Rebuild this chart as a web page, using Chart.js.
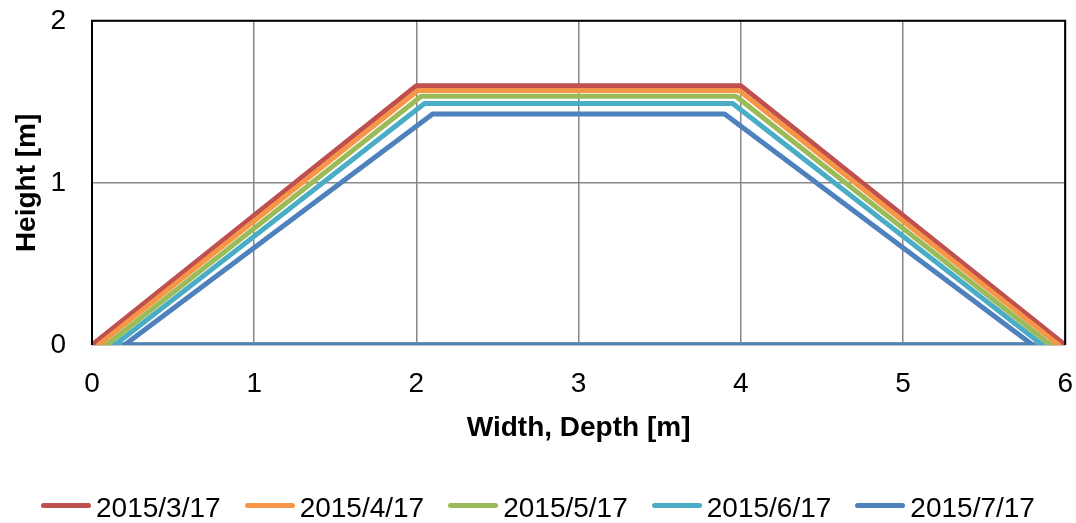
<!DOCTYPE html>
<html>
<head>
<meta charset="utf-8">
<script src="https://cdn.jsdelivr.net/npm/chart.js@4/dist/chart.umd.min.js"></script>
<style>
  html, body { margin: 0; padding: 0; background: #fff; }
  #wrap { width: 1076px; height: 523px; position: relative; overflow: hidden; }
  #box { position: absolute; left: 0; top: -22px; width: 1095px; height: 545px; }
  #legend {
    position: absolute; left: 0; top: 490px; width: 1076px; height: 36px;
    display: flex; justify-content: center; align-items: center; gap: 24px;
    font-family: 'Liberation Sans', Arial, sans-serif; font-size: 28px; color: #000;
  }
  .item { display: flex; align-items: center; }
  .swatch { width: 50px; height: 5px; border-radius: 3px; margin-right: 5px; position: relative; top: -3px; }
</style>
</head>
<body>
<div id="wrap">
  <div id="box"><canvas id="canvas"></canvas></div>
  <div id="legend"></div>
</div>
<script>
/* Survey dates (one series each) */
const dates = ["2015/3/17", "2015/4/17", "2015/5/17", "2015/6/17", "2015/7/17"];
const colors = ["#C0504D", "#F79646", "#9BBB59", "#4BACC6", "#4F81BD"];

/* Trapezoid profile of each date: foot, crest edges and crest height */
const footLeft = [0, 0.04, 0.09, 0.14, 0.2];
const crestLeft = [2, 2.01, 2.03, 2.05, 2.1];
const crestRight = [4, 3.99, 3.97, 3.95, 3.9];
const footRight = [6, 5.96, 5.91, 5.86, 5.8];
const crestHeight = [1.6, 1.57, 1.535, 1.49, 1.425];

/* Axis ticks */
const xTicks = [0, 1, 2, 3, 4, 5, 6];
const yTicks = [0, 1, 2];

const font = "'Liberation Sans', Arial, sans-serif";

/* Build datasets: closed outline back along the ground */
let datasets = [];
for (let i = 0; i < dates.length; i++) {
  datasets.push({
    label: dates[i],
    data: [
      { x: footLeft[i], y: 0 },
      { x: crestLeft[i], y: crestHeight[i] },
      { x: crestRight[i], y: crestHeight[i] },
      { x: footRight[i], y: 0 },
      { x: footLeft[i], y: 0 },
    ],
    borderColor: colors[i],
    backgroundColor: colors[i],
    borderWidth: 5,
    borderCapStyle: "round",
    borderJoinStyle: "round",
    showLine: true,
    pointRadius: 0,
    tension: 0,
    order: dates.length - i,
  });
}

/* Legend (html) */
const legend = document.getElementById("legend");
dates.forEach((d, i) => {
  let item = document.createElement("div");
  item.className = "item";
  let sw = document.createElement("span");
  sw.className = "swatch";
  sw.style.background = colors[i];
  let txt = document.createElement("span");
  txt.textContent = d;
  item.appendChild(sw);
  item.appendChild(txt);
  legend.appendChild(item);
});

/* Black frame around plot area */
const frame = {
  id: "frame",
  afterDatasetsDraw(chart) {
    const a = chart.chartArea;
    const ctx = chart.ctx;
    ctx.save();
    ctx.strokeStyle = "#000";
    ctx.lineWidth = 2;
    ctx.beginPath();
    ctx.moveTo(a.left, a.bottom);
    ctx.lineTo(a.left, a.top);
    ctx.lineTo(a.right, a.top);
    ctx.lineTo(a.right, a.bottom);
    ctx.stroke();
    ctx.restore();
  },
};

Chart.defaults.font.family = font;
Chart.defaults.color = "#000";

var ctx = document.getElementById("canvas").getContext("2d");
window.myChart = new Chart(ctx, {
  type: "scatter",
  data: { datasets: datasets },
  options: {
    responsive: true,
    maintainAspectRatio: false,
    animation: false,
    layout: { padding: { top: 0, right: 0, left: 0, bottom: 66 } },
    plugins: {
      tooltip: { enabled: false },
      legend: { display: false },
    },
    scales: {
      x: {
        type: "linear",
        min: 0,
        max: 6,
        afterBuildTicks: (s) => { s.ticks = xTicks.map((v) => ({ value: v })); },
        afterFit: (s) => { s.height = 112; },
        grid: { color: "#888", lineWidth: 1.5, drawTicks: false },
        border: { display: false },
        ticks: { font: { size: 28 }, padding: 22 },
        title: {
          display: true,
          text: "Width, Depth [m]",
          font: { size: 28, weight: "bold" },
          padding: { top: 0, bottom: 12 },
        },
      },
      y: {
        type: "linear",
        min: 0,
        max: 2,
        afterBuildTicks: (s) => { s.ticks = yTicks.map((v) => ({ value: v })); },
        afterFit: (s) => { s.width = 92; },
        grid: { color: "#888", lineWidth: 1.5, drawTicks: false },
        border: { display: false },
        ticks: { font: { size: 28 }, padding: 26 },
        title: {
          display: true,
          text: "Height [m]",
          font: { size: 28, weight: "bold" },
          padding: { top: 10, bottom: 0 },
        },
      },
    },
  },
  plugins: [frame],
});
</script>
</body>
</html>
